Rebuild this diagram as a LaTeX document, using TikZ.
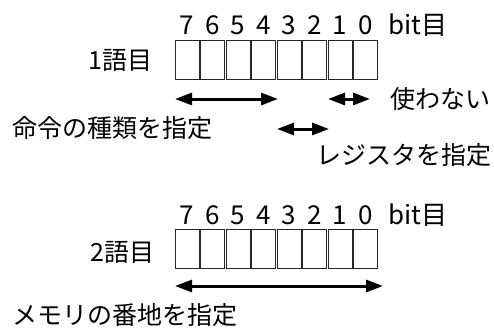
\documentclass[tikz,border=0pt]{standalone}
\usepackage{fontspec}
\setmainfont{Noto Sans CJK JP}
\usetikzlibrary{arrows.meta}
\tikzset{
  bitbox/.style={draw=black!85, line width=0.9pt, minimum width=24pt, minimum height=39pt, inner sep=0pt},
  lbl/.style={inner sep=0pt, font=\fontsize{25}{30}\selectfont},
  dig/.style={inner sep=0pt, font=\fontsize{26}{30}\selectfont},
  darr/.style={line width=3pt, {Triangle[length=17pt,width=12pt]}-{Triangle[length=17pt,width=12pt]}}
}
\begin{document}
\begin{tikzpicture}[x=1pt,y=-1pt]
\useasboundingbox (0,0) rectangle (494,332);
% row 1
\foreach \i in {0,...,7}{
  \node[bitbox] (a\i) at ({187+25.5*\i},59.5) {};
  \pgfmathtruncatemacro{\d}{7-\i}
  \node[dig] (da\i) at ({187+25.5*\i},25) {\d};
}
\node[dig, anchor=west] (bita) at (388,25) {bit目};
\node[lbl, anchor=east] (w1) at (153,60) {1語目};
% row 2
\foreach \i in {0,...,7}{
  \node[bitbox] (b\i) at ({187+25.5*\i},248.5) {};
  \pgfmathtruncatemacro{\d}{7-\i}
  \node[dig] (db\i) at ({187+25.5*\i},215) {\d};
}
\node[dig, anchor=west] (bitb) at (388,215) {bit目};
\node[lbl, anchor=east] (w2) at (155,252) {2語目};
% labels
\node[lbl, anchor=west] (unused) at (390,99) {使わない};
\node[lbl, anchor=west] (op) at (12,128) {命令の種類を指定};
\node[lbl, anchor=east] (reg) at (492,155) {レジスタを指定};
\node[lbl, anchor=west] (mem) at (12,315) {メモリの番地を指定};
% arrows
\coordinate (p1) at (175,99);
\coordinate (p2) at (278,99);
\coordinate (p3) at (328,99);
\coordinate (p4) at (370,99);
\coordinate (p5) at (277,129);
\coordinate (p6) at (329,129);
\coordinate (p7) at (175,286);
\coordinate (p8) at (383,286);
\draw[darr] (p1) -- (p2);
\draw[darr] (p3) -- (p4);
\draw[darr] (p5) -- (p6);
\draw[darr] (p7) -- (p8);
\end{tikzpicture}
\end{document}
